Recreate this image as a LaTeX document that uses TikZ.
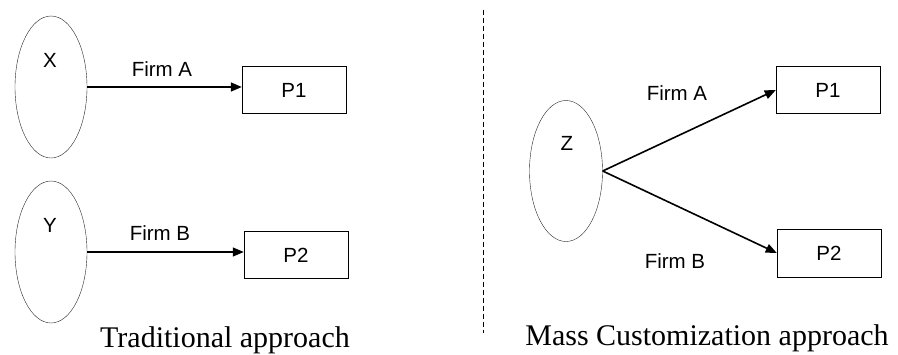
\documentclass[tikz,border=0pt]{standalone}
\usepackage{fontspec}
\setmainfont{Liberation Serif}
\setsansfont{Liberation Sans}
\usetikzlibrary{shapes.geometric,arrows.meta}
\begin{document}
\begin{tikzpicture}[x=1pt,y=-1pt,>={Triangle[length=11pt,width=9pt]},
	oval/.style={draw=black!85,ellipse,inner sep=0,minimum width=72pt,minimum height=142pt},
	prod/.style={draw,inner sep=0,minimum width=104pt,minimum height=47pt,font=\sffamily\fontsize{20.5}{24}\selectfont},
	lbl/.style={inner sep=0,font=\sffamily\fontsize{20.5}{24}\selectfont},
	capt/.style={inner sep=0,anchor=base,font=\fontsize{30}{34}\selectfont}]
	\useasboundingbox (0,0) rectangle (898,354);
	\node[oval] (X) at (51,87) {};
	\node[oval] (Y) at (51,252) {};
	\node[lbl] (xl) at (50,60) {X};
	\node[lbl] (yl) at (50,225) {Y};
	\node[prod] (P1a) at (294,90) {P1};
	\node[prod] (P2a) at (296,255) {P2};
	\draw[line width=1.6pt,->] (X.east)--(X.east-|P1a.west);
	\draw[line width=1.3pt,->] (Y.east)--(Y.east-|P2a.west);
	\node[lbl] (fa) at (162,69) {Firm A};
	\node[lbl] (fb) at (160,233) {Firm B};
	\node[capt] (trad) at (225,347) {Traditional approach};
	\coordinate (d1) at (483,10);
	\coordinate (d2) at (483,333);
	\draw[dash pattern=on 5pt off 3pt] (d1)--(d2);
	\node[oval,minimum width=73pt,minimum height=141pt] (Z) at (566,171) {};
	\node[lbl] (zl) at (567,143) {Z};
	\node[prod] (P1b) at (828,90) {P1};
	\node[prod,minimum height=48pt] (P2b) at (829,253) {P2};
	\draw[line width=1.6pt,->] (Z.east)--(P1b.west);
	\draw[line width=1.6pt,->] (Z.east)--(P2b.west);
	\node[lbl] (fa2) at (677,93) {Firm A};
	\node[lbl] (fb2) at (675,261) {Firm B};
	\node[capt] (mass) at (707,345) {Mass Customization approach};
\end{tikzpicture}
\end{document}
